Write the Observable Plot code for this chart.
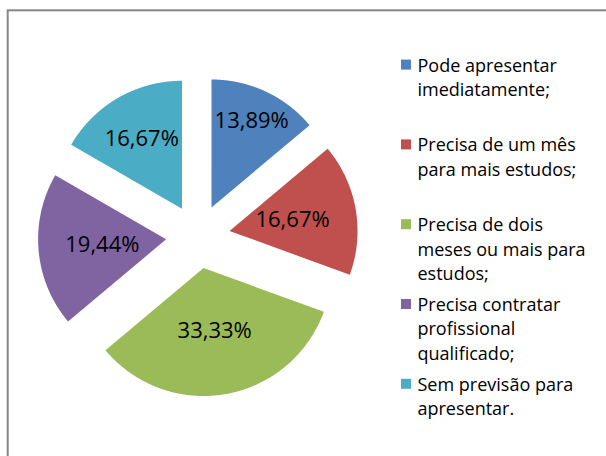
<!DOCTYPE html>
<html><head><meta charset="utf-8">
<script src="https://cdn.jsdelivr.net/npm/d3@7"></script>
<script src="https://cdn.jsdelivr.net/npm/@observablehq/plot@0.6"></script>
<style>
html,body{margin:0;padding:0;background:#fff;overflow:hidden;}
#chart svg{display:block;overflow:hidden;}
</style></head><body><div id="chart"></div>
<script>
// ---- data ----
const categories = [
  "Pode apresentar imediatamente;",
  "Precisa de um mês para mais estudos;",
  "Precisa de dois meses ou mais para estudos;",
  "Precisa contratar profissional qualificado;",
  "Sem previsão para apresentar."
];
const percentages = [13.89, 16.67, 33.33, 19.44, 16.67];
const colors = ["#4F81BD", "#C0504D", "#9BBB59", "#8064A2", "#4BACC6"];

// ---- layout ----
const W = 606, H = 456;
const CX = 197.5, CY = 236, R = 128, EXPLODE = 32;
const LABEL_FONT = 22, LEGEND_FONT = 18;
const FONT = "'Open Sans', sans-serif";
const LEG_SW_X = 401, LEG_SW = 10, LEG_TEXT_X = 417, LEG_BASE0 = 71, LEG_STEP = 79.8, LEG_LINE = 24.5;
const legLineHeight = LEG_LINE / LEGEND_FONT;

const rows = categories.map((c, i) => ({category: c, value: percentages[i]}));
const arcs = d3.pie().sort(null).value(d => d.value).startAngle(0).endAngle(2 * Math.PI)(rows);

const ctx = document.createElement("canvas").getContext("2d");
ctx.font = `${LABEL_FONT}px ${FONT}`;

const wedgePoints = [];
const labels = [];
for (const a of arcs) {
  const mid = (a.startAngle + a.endAngle) / 2;
  const tx = CX + EXPLODE * Math.sin(mid), ty = CY - EXPLODE * Math.cos(mid);
  wedgePoints.push({category: a.data.category, x: tx, y: ty});
  const n = Math.max(2, Math.ceil((a.endAngle - a.startAngle) / (Math.PI / 360)));
  for (let k = 0; k <= n; k++) {
    const t = a.startAngle + (a.endAngle - a.startAngle) * k / n;
    wedgePoints.push({category: a.data.category, x: tx + R * Math.sin(t), y: ty - R * Math.cos(t)});
  }
  const text = a.data.value.toFixed(2).replace(".", ",") + "%";
  const hw = ctx.measureText(text).width / 2 + 3, hh = LABEL_FONT * 0.36;
  const inside = (px, py) => {
    const dx = px - tx, dy = py - ty;
    if (Math.hypot(dx, dy) > R - 2) return false;
    let ang = Math.atan2(dx, -dy);
    if (ang < 0) ang += 2 * Math.PI;
    return ang >= a.startAngle && ang <= a.endAngle;
  };
  let dist = R * 0.5;
  for (; dist < R * 0.95; dist += 0.5) {
    const lx = tx + dist * Math.sin(mid), ly = ty - dist * Math.cos(mid);
    if ([[-1,-1],[-1,1],[1,-1],[1,1]].every(([sx, sy]) => inside(lx + sx * hw, ly + sy * hh))) break;
  }
  labels.push({text, x: tx + dist * Math.sin(mid), y: ty - dist * Math.cos(mid)});
}

const base = i => LEG_BASE0 + i * LEG_STEP;

const chart = Plot.plot({
  width: W, height: H, margin: 0,
  x: {type: "identity", axis: null}, y: {type: "identity", axis: null},
  color: {domain: categories, range: colors},
  style: {fontFamily: FONT, background: "white", overflow: "hidden"},
  marks: [
    Plot.rect([0], {x1: 7.7, y1: 10.3, x2: W + 20, y2: H + 20, fill: "white", stroke: "#868686", strokeWidth: 2}),
    Plot.line(wedgePoints, {x: "x", y: "y", z: "category", fill: "category", stroke: "none", curve: "linear-closed"}),
    Plot.text(labels, {x: "x", y: "y", text: "text", fontSize: LABEL_FONT, fill: "#000", textAnchor: "middle", lineAnchor: "middle"}),
    Plot.rect(categories, {x1: LEG_SW_X, x2: LEG_SW_X + LEG_SW, y1: (d, i) => base(i) - 11.4, y2: (d, i) => base(i) - 1.4, fill: d => d}),
    Plot.text(categories, {x: LEG_TEXT_X, y: (d, i) => base(i) - 0.71 * legLineHeight * LEGEND_FONT, text: d => d,
      lineWidth: 10, lineHeight: legLineHeight, lineAnchor: "top", textAnchor: "start", fontSize: LEGEND_FONT, fill: "#000"})
  ]
});
document.getElementById("chart").appendChild(chart);
</script></body></html>
